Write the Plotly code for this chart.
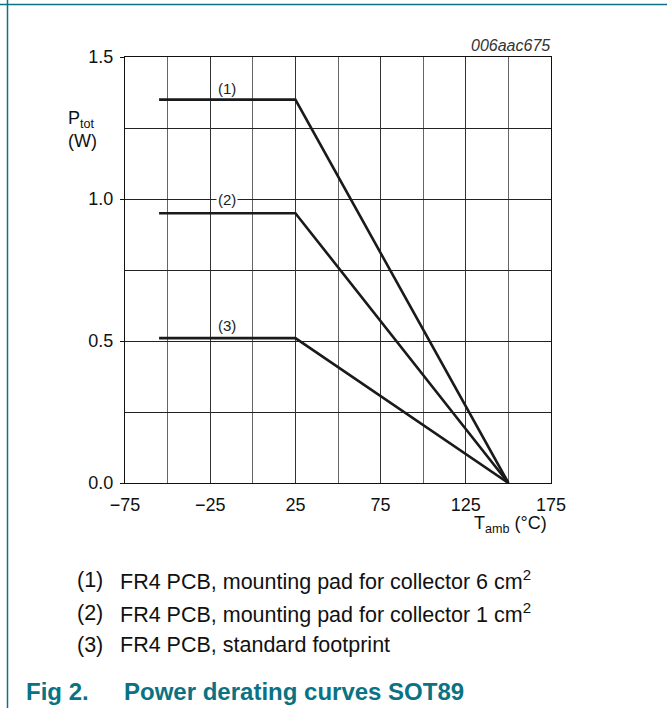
import plotly.graph_objects as go

# Data: ambient temperature (°C) vs total power dissipation (W)
t_amb = [-55, 25, 150]
p_fr4_6cm2 = [1.35, 1.35, 0.0]
p_fr4_1cm2 = [0.95, 0.95, 0.0]
p_fr4_std = [0.51, 0.51, 0.0]

x_tickvals = [-75, -25, 25, 75, 125, 175]
x_ticktext = ["\u221275", "\u221225", "25", "75", "125", "175"]
y_tickvals = [0.0, 0.5, 1.0, 1.5]
y_ticktext = ["0.0", "0.5", "1.0", "1.5"]

curve_labels = ["(1)", "(2)", "(3)"]
notes = [
    "FR4 PCB, mounting pad for collector 6 cm<sup>2</sup>",
    "FR4 PCB, mounting pad for collector 1 cm<sup>2</sup>",
    "FR4 PCB, standard footprint",
]

FONT = "Liberation Sans, Arial, Helvetica, sans-serif"
TEAL = "#0a7282"

fig = go.Figure()
for ys in (p_fr4_6cm2, p_fr4_1cm2, p_fr4_std):
    fig.add_trace(go.Scatter(x=t_amb, y=ys, mode="lines",
                             line=dict(color="#1a1a1a", width=2.6),
                             showlegend=False, hoverinfo="skip"))

# plot area geometry in pixels: x 125..551, y 57..483
L, R, T, B = 125, 551, 57, 483
W, H = R - L, B - T


def px(x):
    return (x - L) / W


def py(y):
    return (B - y) / H


ann = []
# curve labels
ann.append(dict(x=-15, y=1.39, xref="x", yref="y", text=curve_labels[0], showarrow=False,
                font=dict(size=15, color="#222", family=FONT)))
ann.append(dict(x=-15, y=1.0, xref="x", yref="y", text=curve_labels[1], showarrow=False,
                bgcolor="white", borderpad=1,
                font=dict(size=15, color="#222", family=FONT)))
ann.append(dict(x=-15, y=0.556, xref="x", yref="y", text=curve_labels[2], showarrow=False,
                font=dict(size=15, color="#222", family=FONT)))

# axis titles
ann.append(dict(x=px(66), y=py(129), xref="paper", yref="paper", xanchor="left", yanchor="middle",
                align="left", text="P<sub>tot</sub><br>(W)", showarrow=False,
                font=dict(size=18, color="#111", family=FONT)))
ann.append(dict(x=px(549), y=py(524), xref="paper", yref="paper", xanchor="right", yanchor="middle",
                text="T<sub>amb</sub> (°C)", showarrow=False,
                font=dict(size=18, color="#111", family=FONT)))
ann.append(dict(x=px(552), y=py(46), xref="paper", yref="paper", xanchor="right", yanchor="middle",
                text="<i>006aac675</i>", showarrow=False,
                font=dict(size=16, color="#333", family=FONT)))

# notes
for i, (lab, note) in enumerate(zip(curve_labels, notes)):
    yc = 580 + i * 32.5
    ann.append(dict(x=px(75), y=py(yc), xref="paper", yref="paper", xanchor="left", yanchor="middle",
                    text=lab, showarrow=False, font=dict(size=21.5, color="#111", family=FONT)))
    ann.append(dict(x=px(118), y=py(yc), xref="paper", yref="paper", xanchor="left", yanchor="middle",
                    text=note, showarrow=False, font=dict(size=21.5, color="#111", family=FONT)))

# figure caption
ann.append(dict(x=px(24), y=py(691), xref="paper", yref="paper", xanchor="left", yanchor="middle",
                text="<b>Fig 2.</b>", showarrow=False, font=dict(size=24, color=TEAL, family=FONT)))
ann.append(dict(x=px(122), y=py(691), xref="paper", yref="paper", xanchor="left", yanchor="middle",
                text="<b>Power derating curves SOT89</b>", showarrow=False,
                font=dict(size=24, color=TEAL, family=FONT)))

shapes = [
    dict(type="line", xref="paper", yref="paper", x0=px(0), x1=px(667), y0=py(4.5), y1=py(4.5),
         line=dict(color=TEAL, width=1.5)),
    dict(type="line", xref="paper", yref="paper", x0=px(7.5), x1=px(7.5), y0=py(0), y1=py(708),
         line=dict(color=TEAL, width=1.5)),
]

fig.update_layout(
    width=667, height=708,
    margin=dict(l=L, r=667 - R, t=T, b=708 - B, pad=0),
    paper_bgcolor="white", plot_bgcolor="white",
    annotations=ann, shapes=shapes,
    font=dict(family=FONT, size=16, color="#111"),
)
fig.update_xaxes(
    range=[-75, 175], tickvals=x_tickvals, ticktext=x_ticktext,
    showgrid=True, gridcolor="#333", gridwidth=1,
    minor=dict(tickvals=[-50, 0, 50, 100, 150], showgrid=True, gridcolor="#666", gridwidth=1, ticks=""),
    showline=True, linecolor="#111", linewidth=1, mirror=True,
    ticks="", ticklabelstandoff=5, zeroline=False,
    tickfont=dict(size=18, color="#111", family=FONT),
)
fig.update_yaxes(
    range=[0, 1.5], tickvals=y_tickvals, ticktext=y_ticktext,
    showgrid=True, gridcolor="#222", gridwidth=1,
    minor=dict(tickvals=[0.25, 0.75, 1.25], showgrid=True, gridcolor="#222", gridwidth=1, ticks=""),
    showline=True, linecolor="#111", linewidth=1, mirror=True,
    ticks="outside", ticklen=4, tickcolor="#111", ticklabelstandoff=3, zeroline=False,
    tickfont=dict(size=18, color="#111", family=FONT),
)

fig.write_html("out.html", config={"displayModeBar": False},
               post_script="document.body.style.margin='0';document.body.style.padding='0';")
